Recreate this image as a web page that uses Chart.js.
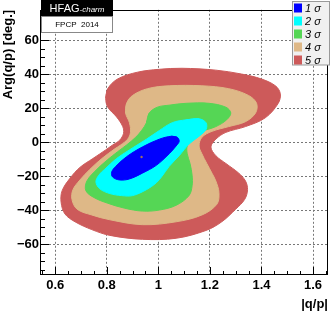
<!DOCTYPE html>
<html>
<head>
<meta charset="utf-8">
<script src="https://cdn.jsdelivr.net/npm/chart.js@4"></script>
<style>
  html, body { margin: 0; padding: 0; background: #fff; }
</style>
</head>
<body>
<canvas id="c" width="332" height="313"></canvas>
<script>
// contour levels, innermost first
const levels = ['1 σ', '2 σ', '3 σ', '4 σ', '5 σ'];
const levelColors = ['#0000ff', '#00ffff', '#55d655', '#deb887', '#cd5a5a'];

// contour outlines, [|q/p|, Arg(q/p) in deg.]
const sigma1 = [[1.050,3.6],[1.073,3.0],[1.081,0.7],[1.069,-2.1],[1.042,-6.7],[0.992,-13.5],[0.938,-18.1],[0.888,-21.5],[0.850,-22.1],[0.823,-20.4],[0.819,-17.5],[0.835,-14.1],[0.877,-8.4],[0.938,-2.7],[1.004,1.9]];
const sigma2 = [[1.108,13.3],[1.158,13.9],[1.185,11.6],[1.185,7.6],[1.158,3.6],[1.119,-1.0],[1.081,-7.8],[1.042,-14.1],[1.015,-19.8],[0.992,-23.8],[0.954,-27.8],[0.900,-31.3],[0.858,-31.3],[0.812,-30.1],[0.773,-27.3],[0.758,-23.3],[0.769,-19.3],[0.792,-15.8],[0.838,-9.5],[0.888,-4.4],[0.954,1.9],[1.004,7.0],[1.054,11.6]];
const sigma3 = [[0.954,11.6],[0.965,17.3],[0.996,20.7],[1.042,21.9],[1.108,23.0],[1.196,23.0],[1.262,20.7],[1.281,17.3],[1.265,13.3],[1.223,9.3],[1.169,6.5],[1.131,3.6],[1.112,-2.1],[1.112,-6.7],[1.123,-12.4],[1.131,-19.3],[1.131,-25.5],[1.119,-31.3],[1.069,-37.0],[1.004,-39.8],[0.938,-40.4],[0.869,-38.7],[0.804,-35.8],[0.750,-32.4],[0.719,-28.4],[0.723,-22.7],[0.762,-15.8],[0.804,-10.1],[0.842,-5.5],[0.877,-1.5],[0.912,3.0],[0.935,7.0]];
const sigma4 = [[0.873,17.3],[0.877,23.0],[0.900,27.6],[0.958,31.6],[1.042,33.3],[1.169,33.3],[1.273,31.6],[1.350,27.6],[1.381,23.0],[1.377,17.3],[1.338,12.2],[1.273,9.3],[1.208,6.5],[1.169,3.0],[1.158,-2.1],[1.169,-6.7],[1.188,-12.4],[1.208,-18.1],[1.223,-22.7],[1.235,-29.5],[1.227,-36.4],[1.169,-42.7],[1.069,-46.7],[0.938,-48.4],[0.812,-45.5],[0.742,-42.7],[0.685,-39.3],[0.665,-33.5],[0.669,-27.8],[0.696,-22.1],[0.735,-15.8],[0.781,-9.5],[0.831,-3.8],[0.854,-1.5],[0.881,1.9],[0.892,5.9],[0.888,11.6]];
const sigma5 = [[0.796,25.9],[0.804,31.6],[0.842,37.3],[0.919,41.3],[1.004,43.0],[1.092,43.6],[1.223,42.5],[1.323,40.2],[1.400,37.3],[1.454,33.3],[1.473,28.7],[1.465,23.0],[1.415,14.5],[1.338,9.3],[1.262,5.9],[1.223,1.9],[1.204,-2.7],[1.223,-7.8],[1.262,-12.4],[1.312,-18.1],[1.338,-22.7],[1.346,-27.8],[1.335,-33.5],[1.300,-39.3],[1.246,-46.7],[1.185,-51.8],[1.069,-56.4],[0.938,-57.0],[0.812,-54.7],[0.742,-51.3],[0.677,-46.7],[0.638,-42.1],[0.623,-35.3],[0.627,-28.4],[0.658,-21.0],[0.696,-14.7],[0.746,-9.5],[0.796,-4.4],[0.823,-1.5],[0.850,1.3],[0.865,5.3],[0.862,9.3],[0.838,15.0],[0.804,20.7]];
const bestFit = [[0.935, -8.6]];

const xTicks = [0.6, 0.8, 1, 1.2, 1.4, 1.6];
const yTicks = [-60, -40, -20, 0, 20, 40, 60];
const xMinorStep = 0.05;
const yMinorStep = 5;

const font = 'Liberation Sans, Arial, Helvetica, sans-serif';

// closed outline: run past the start so the seam is smooth too
function toPoints(pts, close) {
  const list = close ? pts.concat([pts[0], pts[1]]) : pts;
  return list.map(p => ({ x: p[0], y: p[1] }));
}

const contours = [sigma1, sigma2, sigma3, sigma4, sigma5];
const datasets = contours.map((pts, i) => ({
  label: levels[i],
  data: toPoints(pts, true),
  showLine: true,
  fill: 'shape',
  tension: 0.35,
  backgroundColor: levelColors[i],
  borderColor: levelColors[i],
  borderWidth: 1,
  pointRadius: 0
}));
// best fit marker on top
datasets.unshift({
  label: 'best fit',
  data: toPoints(bestFit, false),
  pointRadius: 1.2,
  backgroundColor: '#a07060',
  borderWidth: 0
});

const decorations = {
  id: 'decorations',
  afterDraw(chart) {
    const { ctx, chartArea: a, scales: { x, y } } = chart;
    ctx.save();
    ctx.strokeStyle = '#000';
    ctx.lineWidth = 1;

    // ROOT style inward ticks
    ctx.beginPath();
    for (let k = Math.ceil(x.min / xMinorStep - 1e-9); k * xMinorStep <= x.max + 1e-9; k++) {
      const v = k * xMinorStep;
      const major = xTicks.some(t => Math.abs(t - v) < 1e-6);
      const px = Math.round(x.getPixelForValue(v)) + 0.5;
      ctx.moveTo(px, a.bottom);
      ctx.lineTo(px, a.bottom - (major ? 8 : 4));
    }
    for (let k = Math.ceil(y.min / yMinorStep - 1e-9); k * yMinorStep <= y.max + 1e-9; k++) {
      const v = k * yMinorStep;
      const major = yTicks.includes(v);
      const py = Math.round(y.getPixelForValue(v)) + 0.5;
      ctx.moveTo(a.left, py);
      ctx.lineTo(a.left + (major ? 8 : 4), py);
    }
    ctx.stroke();

    // frame
    ctx.strokeRect(Math.round(a.left) - 0.5, Math.round(a.top) + 0.5,
      Math.round(a.right - a.left), Math.round(a.bottom - a.top) - 1);

    // HFAG label
    ctx.fillStyle = '#000';
    ctx.fillRect(41, 0, 72, 16);
    ctx.fillStyle = '#fff';
    ctx.fillRect(41, 16, 72, 17);
    ctx.strokeStyle = '#888';
    ctx.strokeRect(41.5, 16.5, 71, 16);
    ctx.textBaseline = 'middle';
    ctx.textAlign = 'left';
    ctx.font = '11px ' + font;
    const w1 = ctx.measureText('HFAG').width;
    ctx.font = 'italic 8px ' + font;
    const w2 = ctx.measureText('-charm').width;
    const tx = 77 - (w1 + w2) / 2;
    ctx.fillStyle = '#fff';
    ctx.font = '11px ' + font;
    ctx.fillText('HFAG', tx, 8.5);
    ctx.font = 'italic 8px ' + font;
    ctx.fillText('-charm', tx + w1, 9.5);
    ctx.fillStyle = '#000';
    ctx.font = '8px ' + font;
    ctx.textAlign = 'center';
    ctx.fillText('FPCP  2014', 77, 25);

    // legend
    ctx.fillStyle = '#f0f0f0';
    ctx.fillRect(292.5, 1.5, 37, 63.5);
    ctx.strokeStyle = '#999';
    ctx.strokeRect(292.5, 1.5, 37, 63.5);
    ctx.textAlign = 'left';
    ctx.font = 'italic 11px ' + font;
    levels.forEach((name, i) => {
      const cy = 8 + i * 13;
      ctx.fillStyle = levelColors[i];
      ctx.fillRect(294, cy - 4.5, 8, 9);
      ctx.fillStyle = '#000';
      ctx.fillText(name, 305, cy + 0.5);
    });
    ctx.restore();
  }
};

const tickFont = { family: font, size: 13, weight: 'bold' };

new Chart(document.getElementById('c'), {
  type: 'scatter',
  data: { datasets },
  options: {
    responsive: false,
    animation: false,
    devicePixelRatio: 1,
    layout: { padding: { top: 2, right: 2, left: 0, bottom: 0 } },
    plugins: {
      legend: { display: false },
      tooltip: { enabled: false }
    },
    scales: {
      x: {
        type: 'linear',
        min: 0.545,
        max: 1.658,
        z: 1,
        afterBuildTicks: s => { s.ticks = xTicks.map(v => ({ value: v })); },
        afterFit: s => { s.height = 38; },
        border: { display: false, dash: [2, 2] },
        grid: { color: '#777', drawTicks: false },
        ticks: {
          font: tickFont, color: '#000', padding: 3, maxRotation: 0, autoSkip: false,
          callback: v => String(v)
        },
        title: {
          display: true, text: '|q/p|', align: 'end', color: '#000',
          font: { family: font, size: 13, weight: 'bold' },
          padding: { top: 0, bottom: 1 }
        }
      },
      y: {
        type: 'linear',
        min: -78,
        max: 78,
        z: 1,
        afterBuildTicks: s => { s.ticks = yTicks.map(v => ({ value: v })); },
        afterFit: s => { s.width = 41; },
        border: { display: false, dash: [2, 2] },
        grid: { color: '#777', drawTicks: false },
        ticks: {
          font: tickFont, color: '#000', padding: 2, autoSkip: false,
          callback: v => (v < 0 ? '\u2212' + Math.abs(v) : String(v))
        },
        title: {
          display: true, text: 'Arg(q/p) [deg.]', align: 'end', color: '#000',
          font: { family: font, size: 13, weight: 'bold' },
          padding: { top: 1, bottom: 0 }
        }
      }
    }
  },
  plugins: [decorations]
});
</script>
</body>
</html>
